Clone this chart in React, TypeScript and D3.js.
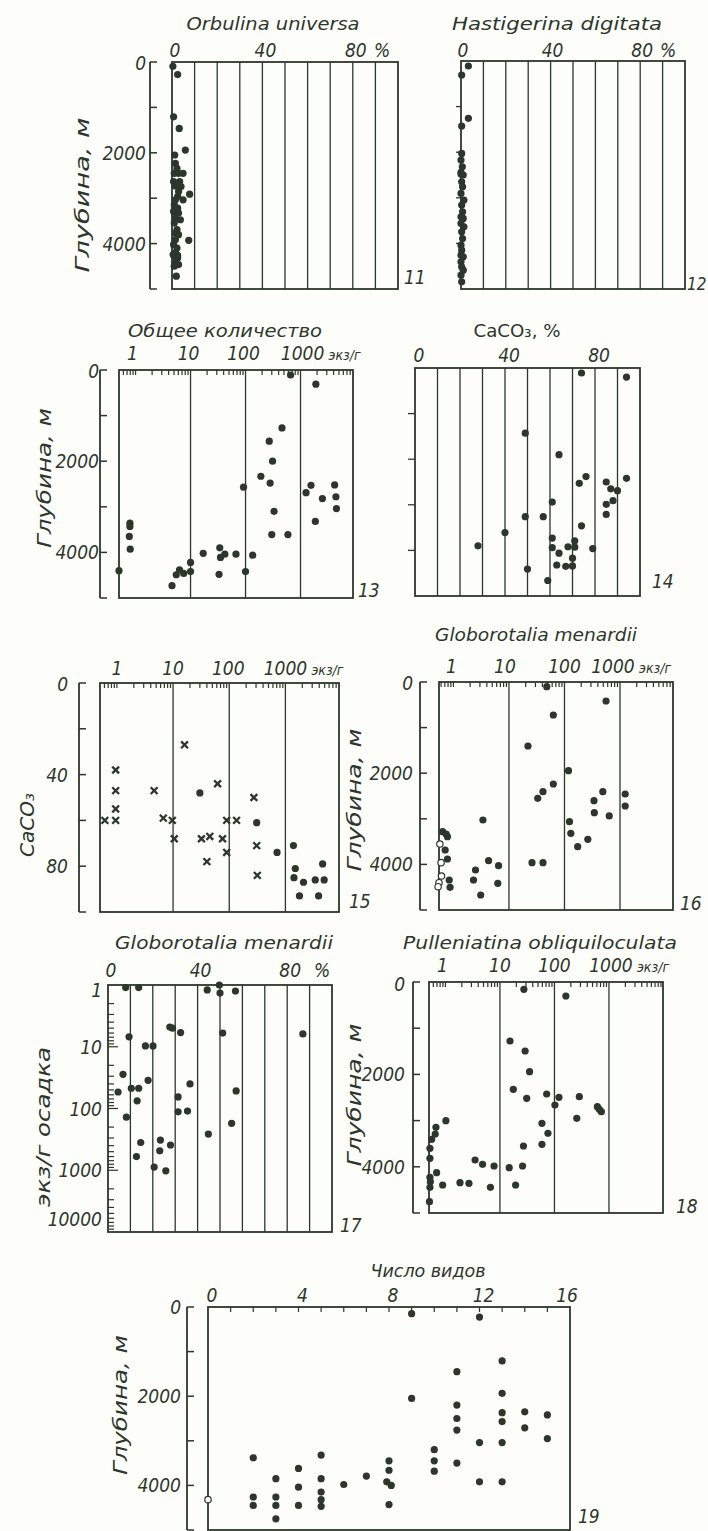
import React from 'react';
import * as d3 from 'd3';

const INK = '#2c372b';
const FONT = "'DejaVu Sans Condensed', 'DejaVu Sans', sans-serif";

// ---------- DATA ----------
// 11: Orbulina universa [%, depth m]
const orbulinaPts: [number, number][] = [[0.4,95],[2.5,278],[0.7,1207],[3.2,1463],[5.9,1939],[1.2,2048],[1.5,2231],[2.2,2341],[1.0,2451],[2.9,2451],[4.9,2451],[0.7,2634],[3.4,2634],[1.5,2729],[4.0,2743],[2.9,2853],[7.8,2912],[2.5,2963],[1.5,3036],[4.9,3036],[1.0,3146],[2.5,3219],[0.7,3292],[2.9,3328],[1.5,3438],[3.7,3475],[1.0,3548],[2.2,3694],[1.5,3767],[2.9,3804],[7.4,3928],[1.5,3914],[0.7,4023],[2.2,4097],[1.5,4206],[0.5,4240],[2.5,4260],[1.0,4280],[2.5,4316],[1.5,4426],[2.9,4462],[1.0,4499],[1.9,4718]];
// 12: Hastigerina digitata [%, depth m]
const hastigerinaPts: [number, number][] = [[3.3,110],[0.3,307],[3.3,1258],[0.3,1426],[0.3,2026],[0,2173],[0.6,2319],[0,2443],[0,2480],[1.0,2502],[0.3,2648],[0.7,2758],[0,2904],[1.3,3050],[0.3,3160],[0.7,3306],[0,3416],[1.0,3453],[0,3563],[1.3,3636],[0.3,3745],[0.7,3892],[0,4038],[0.3,4148],[0,4258],[1.0,4294],[0,4404],[0.3,4514],[1.0,4587],[0,4696],[0.3,4843]];
// 13: total count [specimens/g, depth m]
const totalPts: [number, number][] = [[660,110],[1900,310],[460,1270],[270,1560],[310,2000],[190,2330],[280,2480],[92,2570],[1260,2690],[1550,2530],[2500,2820],[4170,2520],[4400,2780],[4500,3040],[1860,3320],[330,3100],[300,3610],[590,3610],[0.79,3360],[0.79,3430],[0.77,3650],[0.8,3930],[0.5,4400],[4.6,4730],[5.5,4490],[6.3,4380],[7.5,4460],[10,4220],[10,4420],[17,4020],[34,3900],[35,4110],[42,4040],[33,4480],[67,4040],[135,4060],[100,4420]];
// 14: CaCO3 [%, depth m]
const caco3Pts: [number, number][] = [[74,110],[94,200],[49,1430],[64,1900],[73,2530],[76,2380],[94,2420],[85,2500],[87,2650],[90,2690],[88,2910],[85,2990],[85,3210],[61,2940],[49,3260],[57,3260],[40,3610],[74,3460],[28,3900],[61,3730],[71,3790],[61,3940],[64,4060],[68,3920],[71,3930],[79,3960],[70,4170],[63,4320],[67,4350],[70,4340],[50,4410],[59,4660]];
// 15: count vs CaCO3 [specimens/g, CaCO3 %]
const caco3Crosses: [number, number][] = [[0.95,38],[0.95,47],[0.95,55],[0.95,60],[0.61,60],[4.6,47],[6.7,59],[9.7,60],[10.5,68],[16,27],[32,68],[45,67],[40,78],[62,44],[76,68],[90,60],[90,74],[135,60],[275,50],[308,71],[316,84]];
const caco3Dots: [number, number][] = [[30,48],[308,61],[710,74],[1390,71],[1500,81],[1420,85],[2100,87],[1780,93],[3400,86],[3900,93],[4600,79],[4900,86]];
// 16: Globorotalia menardii [specimens/g, depth m]
const menardiiDots: [number, number][] = [[48,102],[560,417],[63,724],[22,1404],[63,2237],[118,1944],[41,2405],[33,2551],[1240,2456],[1240,2719],[490,2405],[340,2602],[345,2865],[640,2938],[123,3063],[130,3319],[173,3611],[263,3450],[3.4,3026],[4.3,3918],[2.5,4123],[2.3,4342],[3.1,4671],[6.5,4028],[6.3,4415],[26,3962],[41,3962],[0.64,3282],[0.74,3333],[0.78,3392],[0.71,3684],[0.78,3882],[0.84,4342],[0.87,4503]];
const menardiiOpen: [number, number][] = [[0.57,3553],[0.6,3962],[0.61,4254],[0.55,4401],[0.53,4489]];
// 17: Globorotalia menardii [%, specimens/g sediment]
const menardiiPct: [number, number][] = [[7.9,1.1],[13.7,1.1],[44.3,1.2],[49.7,1.0],[50,1.35],[56.9,1.25],[9.4,6.9],[27.6,4.8],[28.8,5.0],[32.4,5.9],[51.2,6.0],[87,6.2],[16.7,9.7],[20.1,9.7],[6.7,28],[17.9,35],[10.4,47],[13.7,47],[4.5,54],[13,75],[36.6,40],[31.3,65],[31.3,113],[35.5,110],[57.2,52],[8.2,138],[55.2,174],[44.8,260],[14.6,355],[23.4,325],[23.1,485],[27.9,390],[12.7,600],[20.6,890],[25.8,1020]];
// 18: Pulleniatina obliquiloculata [specimens/g, depth m]
const pulleniatinaPts: [number, number][] = [[27.5,159],[162,303],[15.3,1277],[29,1494],[35,1941],[17.6,2323],[31,2518],[72,2424],[121,2496],[102,2662],[286,2482],[613,2698],[665,2756],[725,2806],[257,2951],[59,3059],[76,3275],[59,3513],[27,3550],[26,3983],[14.8,4019],[19.4,4394],[7.8,3983],[4.8,3946],[3.5,3853],[6.7,4444],[2.7,4358],[1.85,4343],[0.89,4394],[1.02,3001],[0.67,3146],[0.65,3290],[0.56,3405],[0.52,3600],[0.52,3816],[0.69,4128],[0.52,4228],[0.53,4322],[0.52,4444],[0.51,4755]];
// 19: number of species [n, depth m]
const speciesPts: [number, number][] = [[9,150],[12,225],[13,1210],[11,1450],[9,2050],[13,1935],[11,2200],[11,2500],[11,2760],[13,2370],[13,2570],[14,2350],[14,2710],[15,2420],[15,2950],[12,3040],[13,3040],[10,3200],[10,3450],[10,3680],[11,3500],[12,3920],[13,3920],[2,3380],[2,4260],[2,4450],[3,3850],[3,4260],[3,4450],[3,4750],[4,3620],[4,4040],[4,4450],[5,3320],[5,3850],[5,4150],[5,4320],[5,4470],[6,3980],[7,3790],[8,3450],[8,3660],[7.9,3920],[8.1,4000],[8,4430]];
const speciesOpen: [number, number][] = [[0,4320]];

const depthTicks = [0, 1000, 2000, 3000, 4000, 5000];
const depthLabels = [0, 2000, 4000];
const pctGrid = [10, 20, 30, 40, 50, 60, 70, 80, 90];
const pctLabels = [0, 40, 80];
const decadeLines = [10, 100, 1000];
const countLabels = [1, 10, 100, 1000];
const caco3Ticks = [0, 20, 40, 60, 80, 100];
const caco3Labels = [0, 40, 80];
const sedLabels = [1, 10, 100, 1000, 10000];
const speciesLabels = [0, 4, 8, 12, 16];

// ---------- helpers ----------
type S = (v: number) => number;

function minorLog(d0: number, d1: number): number[] {
  const out: number[] = [];
  for (let e = Math.floor(Math.log10(d0)); e <= Math.ceil(Math.log10(d1)); e++) {
    for (let k = 1; k <= 9; k++) {
      const v = k * Math.pow(10, e);
      if (v > d0 && v < d1 && !(k === 1 && decadeLines.includes(v))) out.push(v);
    }
  }
  return out;
}

const LBL = 19;

const Txt = ({ x, y, children, anchor = 'middle', size = LBL, len, italic = true }: any) => (
  <text x={x} y={y} textAnchor={anchor} fontSize={size} fontFamily={FONT}
    fontStyle={italic ? 'italic' : 'normal'} fill={INK}
    {...(len ? { textLength: len, lengthAdjust: 'spacingAndGlyphs' } : {})}>{children}</text>
);

const VTxt = ({ x, y, children, size = LBL, len }: any) => (
  <text transform={`translate(${x},${y}) rotate(-90)`} textAnchor="middle" dy="0.35em"
    fontSize={size} fontFamily={FONT} fontStyle="italic" fill={INK}
    {...(len ? { textLength: len, lengthAdjust: 'spacingAndGlyphs' } : {})}>{children}</text>
);

const Box = ({ x0, x1, y0, y1 }: any) => (
  <rect x={x0} y={y0} width={x1 - x0} height={y1 - y0} fill="none" stroke={INK} strokeWidth={1.8} />
);

const VLines = ({ vals, x, y0, y1 }: { vals: number[]; x: S; y0: number; y1: number }) => (
  <g>{vals.map((v, i) => <line key={i} x1={x(v)} x2={x(v)} y1={y0} y2={y1} stroke={INK} strokeWidth={1.3} />)}</g>
);

const TopTicks = ({ vals, x, y0, len = 5 }: { vals: number[]; x: S; y0: number; len?: number }) => (
  <g>{vals.map((v, i) => <line key={i} x1={x(v)} x2={x(v)} y1={y0} y2={y0 + len} stroke={INK} strokeWidth={1.2} />)}</g>
);

const DepthAxis = ({ ax, y, ticks, labels, lx, fmt = (d: number) => String(d), clampTop, clampBot }: any) => {
  const [a, b] = [y(ticks[0]), y(ticks[ticks.length - 1])];
  return (
    <g>
      <line x1={ax} x2={ax} y1={a} y2={b} stroke={INK} strokeWidth={1.8} />
      {ticks.map((t: number, i: number) => (
        <line key={i} x1={ax} x2={ax + 7} y1={y(t)} y2={y(t)} stroke={INK} strokeWidth={1.5} />
      ))}
      {labels && labels.map((t: number, i: number) => {
        let yy = y(t) + 7;
        if (clampTop !== undefined) yy = Math.max(yy, clampTop);
        if (clampBot !== undefined) yy = Math.min(yy, clampBot);
        return <Txt key={i} x={lx} y={yy} anchor="end">{fmt(t)}</Txt>;
      })}
    </g>
  );
};

const EdgeTicks = ({ vals, y, x0, len = 6 }: any) => (
  <g>{vals.map((v: number, i: number) => <line key={i} x1={x0 - len} x2={x0} y1={y(v)} y2={y(v)} stroke={INK} strokeWidth={1.3} />)}</g>
);

const Dots = ({ pts, x, y, r = 3.6 }: { pts: [number, number][]; x: S; y: S; r?: number }) => (
  <g>{pts.map((p, i) => <circle key={i} cx={x(p[0])} cy={y(p[1])} r={r} fill={INK} />)}</g>
);

const Open = ({ pts, x, y, r = 3.2 }: { pts: [number, number][]; x: S; y: S; r?: number }) => (
  <g>{pts.map((p, i) => <circle key={i} cx={x(p[0])} cy={y(p[1])} r={r} fill="#fdfdf9" stroke={INK} strokeWidth={1.2} />)}</g>
);

const Crosses = ({ pts, x, y, s = 3.4 }: { pts: [number, number][]; x: S; y: S; s?: number }) => (
  <g>{pts.map((p, i) => {
    const cx = x(p[0]), cy = y(p[1]);
    return <path key={i} d={`M${cx - s},${cy - s}L${cx + s},${cy + s}M${cx - s},${cy + s}L${cx + s},${cy - s}`} stroke={INK} strokeWidth={2.3} />;
  })}</g>
);

// ---------- scales ----------
const x11 = d3.scaleLinear().domain([0, 100]).range([172, 398]);
const y11 = d3.scaleLinear().domain([0, 5000]).range([62, 289]);
const x12 = d3.scaleLinear().domain([0, 100]).range([461, 685]);
const y12 = d3.scaleLinear().domain([0, 5000]).range([61, 289]);
const x13 = d3.scaleLog().domain([0.5, 9000]).range([119, 353]);
const y13 = d3.scaleLinear().domain([0, 5000]).range([370, 598]);
const x14 = d3.scaleLinear().domain([0, 100]).range([415, 640]);
const y14 = d3.scaleLinear().domain([0, 5000]).range([368, 596]);
const x15 = d3.scaleLog().domain([0.5, 9000]).range([100, 339]);
const y15 = d3.scaleLinear().domain([0, 100]).range([683, 912]);
const x16 = d3.scaleLog().domain([0.55, 9000]).range([439, 673]);
const y16 = d3.scaleLinear().domain([0, 5000]).range([682, 910]);
const x17 = d3.scaleLinear().domain([0, 100]).range([108, 332]);
const y17 = d3.scaleLog().domain([1, 10000]).range([985, 1232]);
const x18 = d3.scaleLog().domain([0.5, 9800]).range([429, 663]);
const y18 = d3.scaleLinear().domain([0, 5000]).range([982, 1213]);
const x19 = d3.scaleLinear().domain([0, 16]).range([208, 570]);
const y19 = d3.scaleLinear().domain([0, 5000]).range([1307, 1530]);

const CountLabels = ({ x, y, offs = [0, 0, 0, 2] }: any) => (
  <g>
    {countLabels.map((v, i) => <Txt key={i} x={x(v) + offs[i]} y={y}>{String(v)}</Txt>)}
    <Txt x={x(1000) + offs[3] + 26} y={y} anchor="start" size={14}>экз/г</Txt>
  </g>
);

export default function App() {
  return (
    <svg width={708} height={1531} style={{ position: 'absolute', left: 0, top: 0, background: '#fdfdf9' }}>
      {/* ---------- 11 ---------- */}
      <Txt x={273} y={30} size={18} len={173}>Orbulina universa</Txt>
      {pctLabels.map((v, i) => <Txt key={i} x={x11(v) + 3} y={57}>{String(v)}</Txt>)}
      <Txt x={382} y={57}>%</Txt>
      <VTxt x={82} y={195} len={155}>Глубина, м</VTxt>
      <DepthAxis ax={150} y={y11} ticks={depthTicks} labels={depthLabels} lx={146} clampTop={70} />
      <VLines vals={pctGrid} x={x11} y0={62} y1={289} />
      <Box x0={172} x1={398} y0={62} y1={289} />
      <Dots pts={orbulinaPts} x={x11} y={y11} />
      <Txt x={404} y={284} anchor="start">11</Txt>

      {/* ---------- 12 ---------- */}
      <Txt x={557} y={30} size={18} len={210}>Hastigerina digitata</Txt>
      {pctLabels.map((v, i) => <Txt key={i} x={x12(v) + 2} y={57}>{String(v)}</Txt>)}
      <Txt x={668} y={57}>%</Txt>
      <VLines vals={pctGrid} x={x12} y0={61} y1={289} />
      <EdgeTicks vals={[1000, 2000, 3000, 4000]} y={y12} x0={461} len={5} />
      <Box x0={461} x1={685} y0={61} y1={289} />
      <Dots pts={hastigerinaPts} x={x12} y={y12} />
      <Txt x={687} y={290} anchor="start" size={17}>12</Txt>

      {/* ---------- 13 ---------- */}
      <Txt x={225} y={337} size={18} len={194}>Общее количество</Txt>
      <CountLabels x={x13} y={360} offs={[-3, -2, -2, 2]} />
      <VTxt x={44} y={478} len={140}>Глубина, м</VTxt>
      <DepthAxis ax={100} y={y13} ticks={depthTicks} labels={depthLabels} lx={99} clampTop={378} />
      <VLines vals={decadeLines} x={x13} y0={370} y1={598} />
      <TopTicks vals={minorLog(0.5, 9000)} x={x13} y0={370} />
      <Box x0={119} x1={353} y0={370} y1={598} />
      <Dots pts={totalPts} x={x13} y={y13} />
      <Txt x={358} y={597} anchor="start">13</Txt>

      {/* ---------- 14 ---------- */}
      <Txt x={517} y={337} size={18} len={87} italic={false}>CaCO₃, %</Txt>
      {pctLabels.map((v, i) => <Txt key={i} x={x14(v) + 4} y={362}>{String(v)}</Txt>)}
      <VLines vals={pctGrid} x={x14} y0={368} y1={596} />
      <EdgeTicks vals={[1000, 2000, 3000, 4000]} y={y14} x0={415} len={7} />
      <Box x0={415} x1={640} y0={368} y1={596} />
      <Dots pts={caco3Pts} x={x14} y={y14} />
      <Txt x={652} y={588} anchor="start">14</Txt>

      {/* ---------- 15 ---------- */}
      <CountLabels x={x15} y={675} offs={[0, 0, -1, 0]} />
      <VTxt x={27} y={825} len={64}>CaCO₃</VTxt>
      <DepthAxis ax={79} y={y15} ticks={caco3Ticks} labels={caco3Labels} lx={68} clampTop={691} />
      <VLines vals={decadeLines} x={x15} y0={683} y1={912} />
      <TopTicks vals={minorLog(0.5, 9000)} x={x15} y0={683} />
      <Box x0={100} x1={339} y0={683} y1={912} />
      <Crosses pts={caco3Crosses} x={x15} y={y15} />
      <Dots pts={caco3Dots} x={x15} y={y15} />
      <Txt x={349} y={908} anchor="start">15</Txt>

      {/* ---------- 16 ---------- */}
      <Txt x={536} y={641} size={18} len={202}>Globorotalia menardii</Txt>
      <CountLabels x={x16} y={673} offs={[-2, -4, 0, -7]} />
      <VTxt x={354} y={800} len={143}>Глубина, м</VTxt>
      <DepthAxis ax={420} y={y16} ticks={depthTicks} labels={depthLabels} lx={413} clampTop={690} />
      <VLines vals={decadeLines} x={x16} y0={682} y1={910} />
      <TopTicks vals={minorLog(0.55, 9000)} x={x16} y0={682} />
      <Box x0={439} x1={673} y0={682} y1={910} />
      <Dots pts={menardiiDots} x={x16} y={y16} />
      <Open pts={menardiiOpen} x={x16} y={y16} />
      <Txt x={680} y={910} anchor="start">16</Txt>

      {/* ---------- 17 ---------- */}
      <Txt x={224} y={949} size={18} len={218}>Globorotalia menardii</Txt>
      {pctLabels.map((v, i) => <Txt key={i} x={x17(v) + 3} y={977}>{String(v)}</Txt>)}
      <Txt x={322} y={977}>%</Txt>
      <VTxt x={43} y={1127} len={160}>экз/г осадка</VTxt>
      {sedLabels.map((v, i) => (
        <Txt key={i} x={102} y={Math.min(Math.max(y17(v) + 7, 997), 1226)} anchor="end">{String(v)}</Txt>
      ))}
      <VLines vals={pctGrid} x={x17} y0={985} y1={1232} />
      {minorLog(1, 10000).concat([10, 100, 1000]).map((v, i) => (
        <line key={i} x1={108} x2={108 + ([10, 100, 1000].includes(v) ? 10 : 6)} y1={y17(v)} y2={y17(v)} stroke={INK} strokeWidth={1.2} />
      ))}
      <Box x0={108} x1={332} y0={985} y1={1232} />
      <Dots pts={menardiiPct} x={x17} y={y17} />
      <Txt x={340} y={1232} anchor="start">17</Txt>

      {/* ---------- 18 ---------- */}
      <Txt x={540} y={949} size={18} len={274}>Pulleniatina obliquiloculata</Txt>
      <CountLabels x={x18} y={972} offs={[-3, 0, 0, 2]} />
      <VTxt x={354} y={1095} len={143}>Глубина, м</VTxt>
      <DepthAxis ax={413} y={y18} ticks={depthTicks} labels={depthLabels} lx={405} clampTop={991} />
      <VLines vals={decadeLines} x={x18} y0={982} y1={1213} />
      <TopTicks vals={minorLog(0.5, 9800)} x={x18} y0={982} />
      <Box x0={429} x1={663} y0={982} y1={1213} />
      <Dots pts={pulleniatinaPts} x={x18} y={y18} />
      <Txt x={676} y={1213} anchor="start">18</Txt>

      {/* ---------- 19 ---------- */}
      <Txt x={428} y={1277} size={18} len={115}>Число видов</Txt>
      {speciesLabels.map((v, i) => <Txt key={i} x={x19(v) + (i === 4 ? -3 : 4)} y={1302}>{String(v)}</Txt>)}
      <VTxt x={120} y={1405} len={140}>Глубина, м</VTxt>
      <DepthAxis ax={187} y={y19} ticks={depthTicks} labels={depthLabels} lx={181} clampTop={1313} />
      <TopTicks vals={d3.range(1, 16)} x={x19} y0={1307} />
      <Box x0={208} x1={570} y0={1307} y1={1530} />
      <Dots pts={speciesPts} x={x19} y={y19} />
      <Open pts={speciesOpen} x={x19} y={y19} />
      <Txt x={578} y={1523} anchor="start">19</Txt>
    </svg>
  );
}
